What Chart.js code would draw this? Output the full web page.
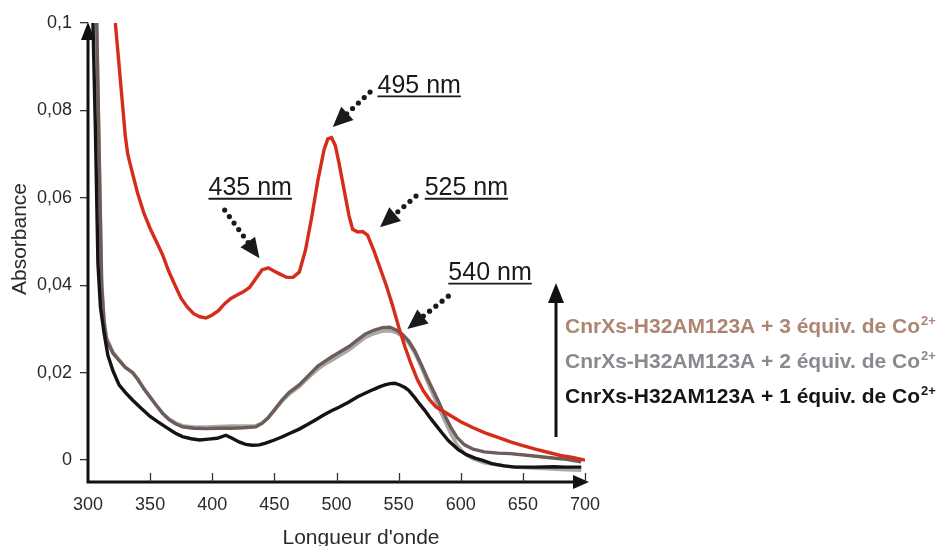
<!DOCTYPE html>
<html>
<head>
<meta charset="utf-8">
<script src="https://cdn.jsdelivr.net/npm/chart.js@4.4.1/dist/chart.umd.min.js"></script>
<style>
  html, body { margin: 0; padding: 0; background: #fff; }
  #wrap { width: 939px; height: 546px; }
</style>
</head>
<body>
<div id="wrap"><canvas id="chart" width="939" height="546"></canvas></div>
<script>
// axes
const wavelengthTicks = [300, 350, 400, 450, 500, 550, 600, 650, 700];
const absorbanceTicks = [0, 0.02, 0.04, 0.06, 0.08, 0.1];
const absorbanceTickLabels = ['0', '0,02', '0,04', '0,06', '0,08', '0,1'];

// + 3 equiv. Co2+ (red curve, strongest)
const redNm = [322, 324, 326, 328, 330, 332, 335, 340, 345, 350, 355, 360, 365, 370, 375, 380, 385, 390, 395,
  400, 405, 410, 415, 420, 425, 430, 435, 440, 445, 450, 455, 460, 465, 470, 475, 480, 485, 490, 493, 496,
  499, 502, 506, 510, 513, 517, 521, 525, 530, 535, 540, 545, 550, 555, 560, 565, 570, 575, 580, 590, 600,
  610, 620, 630, 640, 650, 660, 670, 680, 690, 700];
const redAbs = [0.100, 0.0936, 0.0871, 0.0807, 0.0742, 0.0700, 0.0665, 0.0610, 0.0565, 0.0530, 0.0500,
  0.0470, 0.0432, 0.0400, 0.0370, 0.0350, 0.0335, 0.0328, 0.0325, 0.0332, 0.0342, 0.0358, 0.0370, 0.0378,
  0.0385, 0.0395, 0.0415, 0.0435, 0.0440, 0.0432, 0.0425, 0.0418, 0.0418, 0.0430, 0.0480, 0.0555, 0.0640,
  0.0710, 0.0735, 0.0738, 0.0720, 0.0680, 0.0620, 0.0560, 0.0528, 0.0522, 0.0523, 0.0515, 0.0480, 0.0440,
  0.0400, 0.0355, 0.0305, 0.0260, 0.0220, 0.0185, 0.0158, 0.0138, 0.0122, 0.0105, 0.0088, 0.0074, 0.0062,
  0.0052, 0.0042, 0.0033, 0.0025, 0.0018, 0.0011, 0.0006, 0.0000];

// brown curve
const brownNm = [307, 309, 311, 313, 315, 320, 325, 330, 336, 340, 345, 350, 355, 360, 365, 370, 376, 385,
  395, 405, 415, 425, 435, 440, 445, 450, 456, 462, 470, 478, 485, 490, 496, 503, 510, 517, 523, 530, 537,
  543, 548, 553, 558, 563, 568, 573, 578, 582, 587, 592, 597, 603, 610, 619, 630, 640, 657, 670, 685, 697];
const brownAbs = [0.100, 0.070, 0.040, 0.031, 0.0275, 0.0245, 0.0228, 0.0212, 0.0200, 0.0185, 0.0163,
  0.0144, 0.0125, 0.0107, 0.0093, 0.0084, 0.0076, 0.0073, 0.0072, 0.0073, 0.0073, 0.0074, 0.0076, 0.0084,
  0.0097, 0.0115, 0.0137, 0.0155, 0.0172, 0.0195, 0.0215, 0.0225, 0.0236, 0.0248, 0.0260, 0.0275, 0.0288,
  0.0297, 0.0303, 0.0304, 0.0298, 0.0288, 0.0273, 0.0250, 0.0220, 0.0188, 0.0158, 0.0135, 0.0103, 0.0075,
  0.0052, 0.0035, 0.0025, 0.0019, 0.0016, 0.0015, 0.0010, 0.0006, 0.0002, -0.0004];

// grey curve
const greyNm = brownNm;
const greyAbs = [0.100, 0.070, 0.041, 0.032, 0.028, 0.0248, 0.0230, 0.0213, 0.0200, 0.0186, 0.0164,
  0.0145, 0.0126, 0.0108, 0.0095, 0.0086, 0.0079, 0.0076, 0.0076, 0.0077, 0.0078, 0.0078, 0.0079, 0.0085,
  0.0097, 0.0113, 0.0134, 0.0151, 0.0168, 0.0190, 0.0208, 0.0218, 0.0228, 0.0240, 0.0252, 0.0267, 0.0280,
  0.0289, 0.0295, 0.0296, 0.0292, 0.0283, 0.0268, 0.0245, 0.0214, 0.0180, 0.0148, 0.0122, 0.0090, 0.0060,
  0.0035, 0.0015, 0.0003, -0.0006, -0.0011, -0.0015, -0.0018, -0.0020, -0.0022, -0.0023];

// black curve
const blackNm = [304, 306, 308, 310, 313, 316, 320, 325, 330, 336, 343, 350, 356, 363, 370, 376, 383, 390,
  397, 404, 411, 416, 422, 427, 432, 438, 443, 450, 456, 463, 470, 477, 483, 490, 496, 502, 510, 517, 523,
  530, 535, 539, 543, 547, 551, 555, 558, 563, 567, 571, 575, 580, 585, 590, 595, 598, 605, 612, 617, 625,
  635, 644, 660, 675, 684, 697];
const blackAbs = [0.100, 0.075, 0.045, 0.035, 0.029, 0.024, 0.0205, 0.0172, 0.0155, 0.0137, 0.0118, 0.0100,
  0.0088, 0.0075, 0.0062, 0.0054, 0.0049, 0.0046, 0.0048, 0.0050, 0.0057, 0.0050, 0.0041, 0.0036, 0.0034,
  0.0035, 0.0039, 0.0046, 0.0053, 0.0062, 0.0071, 0.0082, 0.0092, 0.0104, 0.0113, 0.0121, 0.0133, 0.0145,
  0.0153, 0.0162, 0.0168, 0.0172, 0.0175, 0.0176, 0.0172, 0.0166, 0.0160, 0.0143, 0.0128, 0.0114, 0.0098,
  0.0080, 0.0062, 0.0045, 0.0032, 0.0024, 0.0012, 0.0004, 0.0000, -0.0008, -0.0013, -0.0016, -0.0016,
  -0.0015, -0.0016, -0.0016];

const legendLabels = [
  'CnrXs-H32AM123A + 3 équiv. de Co',
  'CnrXs-H32AM123A + 2 équiv. de Co',
  'CnrXs-H32AM123A + 1 équiv. de Co'
];
const legendColors = ['#ad8572', '#878a8e', '#151515'];

// peak call-outs, in data units: text anchor (left, baseline), dotted arrow tail and tip
const peaks = [
  { text: '435 nm', at: [397, 0.0606], tail: [410, 0.0572], tip: [438, 0.0462] },
  { text: '495 nm', at: [533, 0.0840], tail: [527, 0.0842], tip: [497, 0.0762] },
  { text: '525 nm', at: [571, 0.0606], tail: [564, 0.0604], tip: [535, 0.0533] },
  { text: '540 nm', at: [590, 0.0412], tail: [590, 0.0375], tip: [557, 0.0300] }
];

const toPoints = (xs, ys) => xs.map((x, i) => ({ x: x, y: ys[i] }));
const FONT = '"Liberation Sans", Arial, Helvetica, sans-serif';

function arrowHead(ctx, x, y, ang, len, half) {
  ctx.beginPath();
  ctx.moveTo(x, y);
  ctx.lineTo(x - len * Math.cos(ang) + half * Math.sin(ang), y - len * Math.sin(ang) - half * Math.cos(ang));
  ctx.lineTo(x - len * Math.cos(ang) - half * Math.sin(ang), y - len * Math.sin(ang) + half * Math.cos(ang));
  ctx.closePath();
  ctx.fill();
}

const decorPlugin = {
  id: 'decor',
  afterDraw(chart) {
    const { ctx, chartArea: a, scales: { x, y } } = chart;
    ctx.save();
    ctx.fillStyle = '#111';
    ctx.strokeStyle = '#111';

    // axes with arrows
    ctx.lineWidth = 3;
    ctx.beginPath();
    ctx.moveTo(a.left, a.bottom);
    ctx.lineTo(a.left, a.top + 6);
    ctx.moveTo(a.left - 1.5, a.bottom);
    ctx.lineTo(a.right - 4, a.bottom);
    ctx.stroke();
    arrowHead(ctx, a.left, a.top - 1, -Math.PI / 2, 18, 7);
    arrowHead(ctx, a.right + 4, a.bottom, 0, 16, 7);

    // inward ticks on x axis
    ctx.lineWidth = 1.3;
    ctx.strokeStyle = '#333';
    ctx.beginPath();
    wavelengthTicks.slice(1).forEach(v => {
      const px = Math.round(x.getPixelForValue(v)) + 0.5;
      ctx.moveTo(px, a.bottom);
      ctx.lineTo(px, a.bottom - 9);
    });
    ctx.stroke();

    // axis titles
    ctx.fillStyle = '#2a2a2a';
    ctx.font = '21px ' + FONT;
    ctx.textAlign = 'center';
    ctx.textBaseline = 'middle';
    ctx.fillText("Longueur d'onde", 361, 538);
    ctx.save();
    ctx.translate(20, 239);
    ctx.rotate(-Math.PI / 2);
    ctx.fillText('Absorbance', 0, 0);
    ctx.restore();

    // peak call-outs
    ctx.fillStyle = '#1a1a1a';
    ctx.strokeStyle = '#1a1a1a';
    ctx.font = '25px ' + FONT;
    ctx.textAlign = 'left';
    ctx.textBaseline = 'alphabetic';
    peaks.forEach(p => {
      const tx = x.getPixelForValue(p.at[0]);
      const ty = y.getPixelForValue(p.at[1]);
      ctx.fillText(p.text, tx, ty);
      const w = ctx.measureText(p.text).width;
      ctx.lineWidth = 1.8;
      ctx.beginPath();
      ctx.moveTo(tx, ty + 3.5);
      ctx.lineTo(tx + w, ty + 3.5);
      ctx.stroke();

      const x0 = x.getPixelForValue(p.tail[0]), y0 = y.getPixelForValue(p.tail[1]);
      const x1 = x.getPixelForValue(p.tip[0]), y1 = y.getPixelForValue(p.tip[1]);
      const ang = Math.atan2(y1 - y0, x1 - x0);
      const dist = Math.hypot(x1 - x0, y1 - y0) - 17;
      for (let d = 0; d <= dist; d += 8) {
        ctx.beginPath();
        ctx.arc(x0 + d * Math.cos(ang), y0 + d * Math.sin(ang), 2.6, 0, Math.PI * 2);
        ctx.fill();
      }
      arrowHead(ctx, x1, y1, ang, 20, 9);
    });

    // legend with its arrow
    ctx.lineWidth = 3;
    ctx.strokeStyle = '#111';
    ctx.fillStyle = '#111';
    ctx.beginPath();
    ctx.moveTo(556, 437);
    ctx.lineTo(556, 300);
    ctx.stroke();
    arrowHead(ctx, 556, 283, -Math.PI / 2, 20, 8);

    legendLabels.forEach((t, i) => {
      const ly = 333 + i * 35;
      ctx.fillStyle = legendColors[i];
      ctx.font = 'bold 21px ' + FONT;
      ctx.fillText(t, 565, ly);
      const w = ctx.measureText(t).width;
      ctx.font = 'bold 13px ' + FONT;
      ctx.fillText('2+', 565 + w + 1, ly - 8);
    });
    ctx.restore();
  }
};

new Chart(document.getElementById('chart'), {
  type: 'scatter',
  data: {
    datasets: [
      { label: '+ 3 équiv. (rouge)', data: toPoints(redNm, redAbs), borderColor: '#d62c1a', order: 0 },
      { label: '+ 1 équiv.', data: toPoints(blackNm, blackAbs), borderColor: '#141414', order: 1 },
      { label: '+ 3 équiv.', data: toPoints(brownNm, brownAbs), borderColor: '#6d5c57', order: 2 },
      { label: '+ 2 équiv.', data: toPoints(greyNm, greyAbs), borderColor: '#a9a9a9', order: 3 }
    ].map(d => Object.assign(d, { showLine: true, pointRadius: 0, borderWidth: 3.4, tension: 0, fill: false }))
  },
  options: {
    responsive: false,
    animation: false,
    layout: { padding: { top: 23, right: 354, bottom: 0, left: 0 } },
    plugins: { legend: { display: false }, tooltip: { enabled: false } },
    scales: {
      x: {
        type: 'linear', min: 300, max: 700,
        afterBuildTicks: s => { s.ticks = wavelengthTicks.map(v => ({ value: v })); },
        afterFit: s => { s.height = 64; },
        grid: { display: false },
        border: { display: false },
        ticks: { color: '#2a2a2a', padding: 4, maxRotation: 0, font: { family: FONT, size: 18 } }
      },
      y: {
        min: -0.005, max: 0.1,
        afterBuildTicks: s => { s.ticks = absorbanceTicks.map(v => ({ value: v })); },
        afterFit: s => { s.width = 88; },
        grid: { drawOnChartArea: false, drawTicks: true, tickLength: 8, color: '#333', lineWidth: 1.3 },
        border: { display: false },
        ticks: {
          color: '#2a2a2a', padding: 8, font: { family: FONT, size: 18 },
          callback: (v) => absorbanceTickLabels[absorbanceTicks.indexOf(v)]
        }
      }
    }
  },
  plugins: [decorPlugin]
});
</script>
</body>
</html>
